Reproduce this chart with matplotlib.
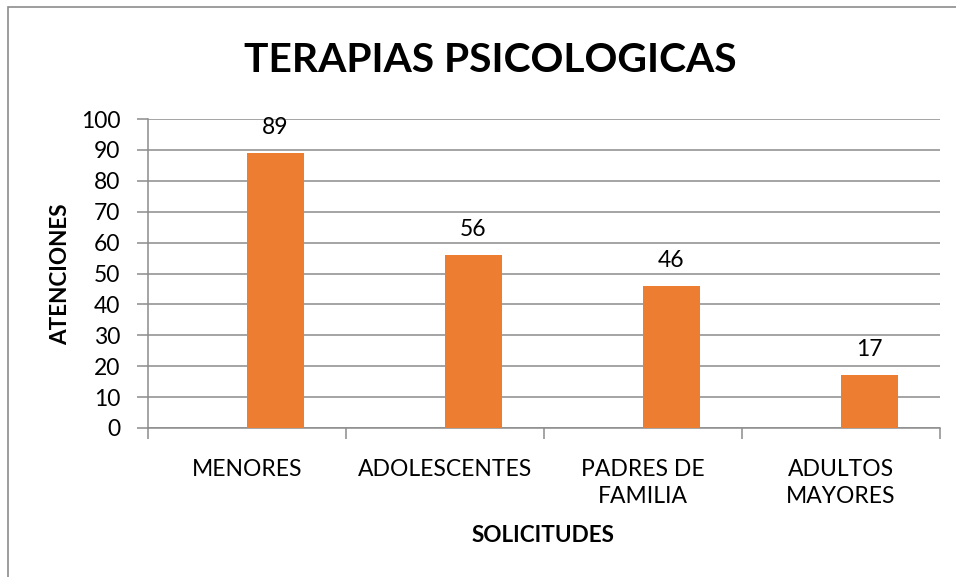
import matplotlib
matplotlib.use("Agg")
import matplotlib.pyplot as plt
from matplotlib.patches import Rectangle
import numpy as np

categories = ["MENORES", "ADOLESCENTES", "PADRES DE\nFAMILIA", "ADULTOS\nMAYORES"]
values = [89, 56, 46, 17]
yticks = [0, 10, 20, 30, 40, 50, 60, 70, 80, 90, 100]
title = "TERAPIAS PSICOLOGICAS"
xlabel = "SOLICITUDES"
ylabel = "ATENCIONES"

plt.rcParams['font.family'] = ['Lato', 'DejaVu Sans']

W, H = 956, 577
fig = plt.figure(figsize=(W/100, H/100), dpi=100)
fig.patch.set_facecolor('white')

def fx(px): return px / W
def fy(py): return 1 - py / H

ax = fig.add_axes([fx(148), fy(428), fx(940) - fx(148), fy(119) - fy(428)])

grid_c = '#8c8c8c'
bar_c = '#ED7D31'
bw = 2 / 7
x = np.arange(len(categories))
ax.bar(x + bw / 2, values, width=bw, color=bar_c, zorder=3)

for xi, v in zip(x, values):
    ax.annotate(str(v), (xi + bw / 2, v), xytext=(0, 18.5), textcoords='offset points',
                ha='center', va='center', fontsize=16.5, color='black')

ax.set_xlim(-0.5, len(categories) - 0.5)
ax.set_ylim(0, 100)
ax.set_yticks(yticks)
ax.set_yticklabels([str(t) for t in yticks], fontsize=16.5)
ax.yaxis.grid(True, color=grid_c, linewidth=1.1, zorder=0)
ax.set_axisbelow(True)
ax.tick_params(axis='y', length=8, color=grid_c, width=1.1, pad=12)

ax.set_xticks(x)
ax.set_xticklabels(categories, fontsize=16.5, linespacing=1.35)
ax.tick_params(axis='x', which='major', length=0, pad=22)
ax.set_xticks(np.arange(-0.5, len(categories)), minor=True)
ax.tick_params(axis='x', which='minor', length=8, color=grid_c, width=1.1)

for s in ['top', 'right']:
    ax.spines[s].set_visible(False)
for s in ['left', 'bottom']:
    ax.spines[s].set_color(grid_c)
    ax.spines[s].set_linewidth(1.1)

fig.text(fx(490), fy(60), title, fontsize=29.3, fontweight='bold', ha='center', va='center')
fig.text(fx(543), fy(535), xlabel, fontsize=16.2, fontweight='bold', ha='center', va='center')
fig.text(fx(61), fy(274), ylabel, fontsize=16.2, fontweight='bold', ha='center', va='center', rotation=90)

border = Rectangle((fx(8), -0.1), 1.2, fy(7) + 0.1, transform=fig.transFigure,
                   fill=False, edgecolor='#8c8c8c', linewidth=1.2)
fig.patches.append(border)

fig.savefig("out.png", dpi=100, facecolor='white')
